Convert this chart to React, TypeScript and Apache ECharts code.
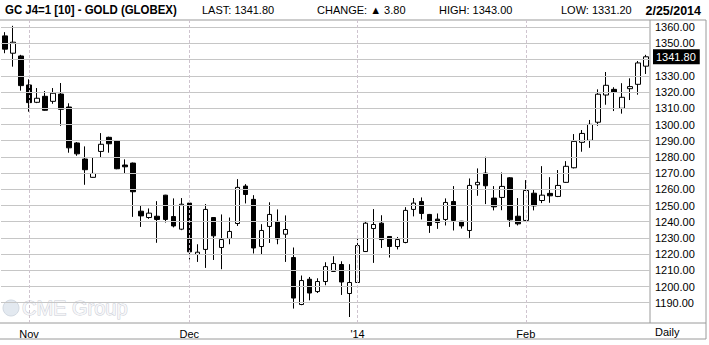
import React, { useEffect, useRef } from "react";
import * as echarts from "echarts";

const dates = [
  "10/29", "10/30", "10/31",
  "11/1", "11/4", "11/5", "11/6", "11/7", "11/8", "11/11", "11/12", "11/13", "11/14", "11/15",
  "11/18", "11/19", "11/20", "11/21", "11/22", "11/25", "11/26", "11/27", "11/29",
  "12/2", "12/3", "12/4", "12/5", "12/6", "12/9", "12/10", "12/11", "12/12", "12/13",
  "12/16", "12/17", "12/18", "12/19", "12/20", "12/23", "12/24", "12/26", "12/27", "12/30", "12/31",
  "1/2", "1/3", "1/6", "1/7", "1/8", "1/9", "1/10", "1/13", "1/14", "1/15", "1/16", "1/17",
  "1/21", "1/22", "1/23", "1/24", "1/27", "1/28", "1/29", "1/30", "1/31",
  "2/3", "2/4", "2/5", "2/6", "2/7", "2/10", "2/11", "2/12", "2/13", "2/14",
  "2/18", "2/19", "2/20", "2/21", "2/24", "2/25",
];

const opens = [
  1354.7, 1344, 1342.3, 1324.4, 1313.7, 1317.4, 1314.3, 1318.8, 1310.8, 1288.6,
  1278.7, 1267.4, 1283.4, 1292.1, 1289.8, 1275, 1276.2, 1246.5, 1242.6, 1243.4,
  1256.4, 1243.2, 1235.4, 1251.5, 1219.8, 1222.9, 1242.6, 1224.1, 1229.7, 1238.9,
  1262, 1253.8, 1224.7, 1237.1, 1240.2, 1232.3, 1217.9, 1188.9, 1204.5, 1196.9,
  1203.1, 1209.3, 1213.6, 1195.7, 1202.5, 1221.6, 1235.8, 1239.1, 1230.9, 1224.7,
  1227.2, 1247.6, 1252.5, 1244.5, 1241.6, 1241.4, 1252.5, 1240.3, 1234.6, 1262.8,
  1270, 1254.6, 1255, 1267.1, 1243.4, 1240.8, 1257.6, 1253.1, 1257.5, 1255.6,
  1264.3, 1273.3, 1289, 1290.2, 1301.4, 1318.2, 1321.7, 1310, 1322.1, 1324.8,
  1336,
];
const closes = [
  1346.5, 1350.8, 1324, 1313.5, 1316.2, 1308.8, 1319.3, 1309.4, 1285.6, 1281.9,
  1272.1, 1269.8, 1287.8, 1288.1, 1272.7, 1273.9, 1258.5, 1243.6, 1245.3, 1241.4,
  1241.4, 1237.4, 1250.8, 1221.4, 1221.2, 1247.6, 1231.3, 1229, 1234, 1261.2,
  1256.8, 1223.8, 1234.6, 1244.5, 1229.4, 1235.2, 1192.9, 1203.7, 1196, 1203.1,
  1212.3, 1214.2, 1202.8, 1202.5, 1225.3, 1239.1, 1238.3, 1229, 1224.7, 1229,
  1247, 1251.5, 1245.1, 1237.7, 1239.5, 1251.9, 1240.8, 1237.4, 1262.4, 1264.3,
  1262.2, 1249.2, 1261.8, 1241.2, 1238.7, 1259.3, 1249.8, 1256.4, 1256, 1262.4,
  1274.2, 1289.6, 1294.5, 1300.1, 1318.7, 1324.2, 1319.9, 1316.8, 1323.4, 1338,
  1341.8,
];
const lows = [
  1344, 1335.7, 1320.9, 1307.9, 1313.2, 1308.5, 1312.8, 1299.2, 1282.6, 1280.7,
  1262.8, 1267.2, 1279.5, 1282.6, 1272.4, 1269.6, 1243, 1236.8, 1241.8, 1227,
  1239.5, 1236.5, 1234.8, 1216.7, 1215.2, 1211.5, 1216.4, 1210.7, 1226.1, 1237.4,
  1251.3, 1220.4, 1220, 1226.9, 1226.1, 1215.2, 1186.4, 1188.5, 1191.5, 1196,
  1200.8, 1209, 1194.8, 1181.2, 1202.2, 1221.3, 1214.6, 1223.8, 1217.9, 1222.9,
  1226.7, 1243.3, 1241.4, 1233.1, 1235.6, 1237.7, 1234.6, 1235.8, 1230, 1256,
  1250.9, 1247, 1247.1, 1236.8, 1237.7, 1240.2, 1247, 1251.5, 1251.7, 1255.2,
  1264, 1272.9, 1283.2, 1285.6, 1299.2, 1312.2, 1308.3, 1306.7, 1315.1, 1318.4,
  1331.2,
];
const highs = [
  1357, 1360.9, 1343, 1327.9, 1322.5, 1320.7, 1322.5, 1325.6, 1313.1, 1289.2,
  1286.5, 1279.9, 1294.7, 1292.5, 1290.2, 1278.5, 1276.5, 1250, 1248.2, 1252.7,
  1256.6, 1254.4, 1254.6, 1251.7, 1226.1, 1250.9, 1242.8, 1244.5, 1242.6, 1266.3,
  1263.2, 1256.4, 1238.5, 1252, 1247.6, 1243.9, 1224.1, 1206.8, 1205.9, 1205.1,
  1215, 1218.7, 1215.6, 1213.8, 1231.1, 1240.5, 1247.8, 1244, 1231.1, 1230.6,
  1249, 1254.6, 1255, 1244.8, 1245.1, 1254.4, 1262, 1240.5, 1266.7, 1272.9,
  1280.1, 1262, 1270.4, 1267.5, 1254.6, 1265.7, 1260.1, 1274.3, 1267.5, 1271.9,
  1277.4, 1294.1, 1296.6, 1302.8, 1321.7, 1332.4, 1323, 1325.5, 1328.5, 1339.2,
  1343,
];

const yTicks = [1190, 1200, 1210, 1220, 1230, 1240, 1250, 1260, 1270, 1280, 1290, 1300, 1310, 1320, 1330, 1340, 1350, 1360];
const yTickLabels = [1190, 1200, 1210, 1220, 1230, 1240, 1250, 1260, 1270, 1280, 1290, 1300, 1310, 1320, 1330, 1350, 1360];
const xTickIndex = [3, 23, 44, 65];
const xTickLabels = ["Nov", "Dec", "'14", "Feb"];

const lastClose = 1341.8;
const header = {
  title: "GC J4=1 [10] - GOLD (GLOBEX)",
  last: "LAST: 1341.80",
  change: "CHANGE: \u25B2 3.80",
  high: "HIGH: 1343.00",
  low: "LOW: 1331.20",
  date: "2/25/2014",
};

const FONT = "'Liberation Sans', Arial, sans-serif";

export default function App() {
  const ref = useRef<HTMLDivElement>(null);

  useEffect(() => {
    if (!ref.current) return;
    const chart = echarts.init(ref.current, null, { renderer: "svg" });
    const candleData = opens.map((o, i) => [o, closes[i], lows[i], highs[i]]);
    const frame = "#9a9a9a";

    const txt = (text: string, x: number, y: number, font: string, align = "left", scaleX = 1) => ({
      type: "text",
      silent: true,
      x,
      y,
      scaleX,
      style: { text, x: 0, y: 0, font, fill: "#000", textAlign: align, textVerticalAlign: "middle" },
    });
    const ln = (x1: number, y1: number, x2: number, y2: number, color = frame) => ({
      type: "line",
      silent: true,
      shape: { x1, y1, x2, y2 },
      style: { stroke: color, lineWidth: 1 },
    });

    chart.setOption({
      animation: false,
      backgroundColor: "#fff",
      grid: { left: 1, right: 59, top: 20, bottom: 22 },
      xAxis: {
        type: "category",
        data: dates,
        boundaryGap: true,
        axisLine: { show: false },
        axisTick: { show: false },
        splitLine: { show: false },
        axisLabel: {
          interval: (idx: number) => xTickIndex.includes(idx),
          formatter: (_v: string, idx: number) => {
            const k = xTickIndex.indexOf(idx);
            return k >= 0 ? xTickLabels[k] : "";
          },
          fontFamily: FONT,
          fontSize: 11,
          color: "#000",
          margin: 5,
        },
      },
      yAxis: {
        type: "value",
        position: "right",
        min: 1177.5,
        max: 1364.5,
        scale: true,
        axisLine: { show: false },
        axisTick: { show: false },
        splitLine: { show: false },
        axisLabel: {
          customValues: yTickLabels,
          formatter: (v: number) => v.toFixed(2),
          fontFamily: FONT,
          fontSize: 11,
          color: "#000",
          margin: 5,
        },
      },
      series: [
        {
          type: "scatter",
          data: [],
          z: 1,
          silent: true,
          markLine: {
            silent: true,
            symbol: ["none", "none"],
            label: { show: false },
            animation: false,
            data: [
              ...yTicks.map((v) => ({ yAxis: v, lineStyle: { color: "#c6c6c6", type: "solid", width: 1 } })),
              ...xTickIndex.map((i) => ({ xAxis: dates[i], lineStyle: { color: "#cfc4cf", type: [3, 2], width: 1 } })),
            ],
          },
        },
        {
          type: "candlestick",
          data: candleData,
          barWidth: 5,
          z: 3,
          itemStyle: {
            color: "#ffffff",
            color0: "#000000",
            borderColor: "#000000",
            borderColor0: "#000000",
            borderWidth: 1,
          },
          markLine: {
            silent: true,
            symbol: ["none", "none"],
            animation: false,
            lineStyle: { color: "rgba(0,0,0,0)", width: 0 },
            data: [
              {
                yAxis: lastClose,
                label: {
                  show: true,
                  position: "end",
                  distance: 3,
                  formatter: () => lastClose.toFixed(2),
                  backgroundColor: "#000",
                  color: "#fff",
                  fontFamily: FONT,
                  fontSize: 11,
                  padding: [2, 4, 2, 3],
                },
              },
            ],
          },
        },
      ],
      graphic: [
        ln(0, 20, 706, 20),
        ln(650, 20, 650, 323),
        ln(0, 323, 706, 323),
        ln(0, 339, 706, 339),
        ln(706, 20, 706, 339),
        {
          type: "circle",
          silent: true,
          shape: { cx: 11, cy: 308, r: 8 },
          style: { fill: "#e3e9f0", stroke: "#d2d9e2", lineWidth: 1 },
          z: 0,
        },
        {
          type: "text",
          silent: true,
          z: 0,
          style: {
            text: "CME Group",
            x: 22,
            y: 308,
            font: `20px ${FONT}`,
            fill: "#f6f6f8",
            stroke: "#c9cdd6",
            lineWidth: 1,
            textVerticalAlign: "middle",
          },
        },
        txt(header.title, 5, 10, `bold 13px ${FONT}`, "left", 0.88),
        txt(header.last, 202, 10, `11px ${FONT}`),
        txt(header.change, 317, 10, `11px ${FONT}`),
        txt(header.high, 439, 10, `11px ${FONT}`),
        txt(header.low, 561, 10, `11px ${FONT}`),
        txt(header.date, 701, 10, `bold 13px ${FONT}`, "right", 0.96),
        txt("Daily", 655, 332, `11px ${FONT}`),
      ],
    });

    return () => chart.dispose();
  }, []);

  return (
    <div
      ref={ref}
      style={{ position: "fixed", left: 0, top: 0, width: 709, height: 345, background: "#fff" }}
    />
  );
}
